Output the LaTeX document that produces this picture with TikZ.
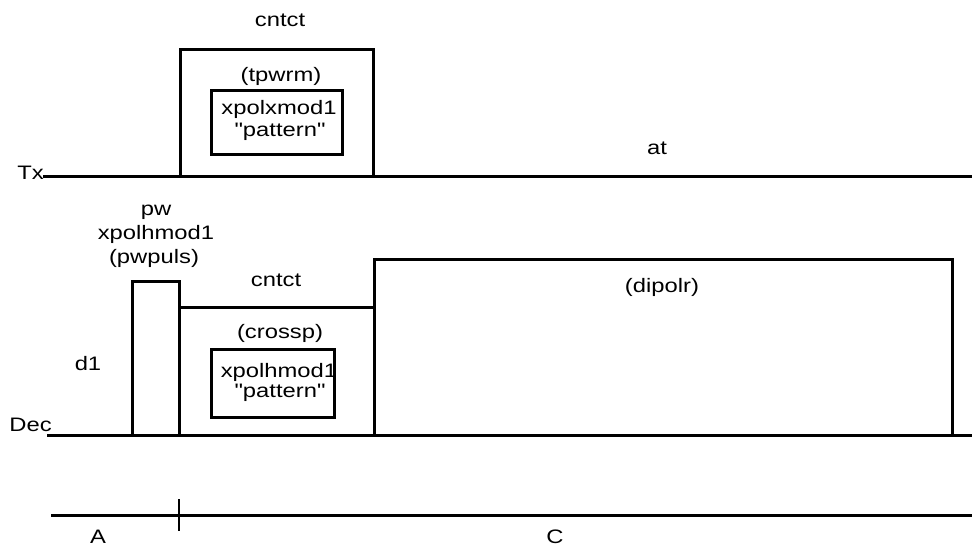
\documentclass[tikz,border=0pt]{standalone}
\usepackage{fontspec}
\setmainfont{Liberation Sans}[FakeStretch=1.22, Ligatures=TeXOff]
\begin{document}
\begin{tikzpicture}[x=1pt,y=-1pt,
  wire/.style={line width=3pt, line join=miter, line cap=butt},
  lbl/.style={font=\fontsize{19.5}{22}\selectfont, inner sep=0pt, anchor=base}]
\useasboundingbox (0,0) rectangle (972,546);
% coordinates
\coordinate (txs) at (43,176);
\coordinate (txe) at (972,176);
\coordinate (decs) at (47,435);
\coordinate (dece) at (972,435);
\coordinate (bs) at (51,515);
\coordinate (be) at (972,515);
\coordinate (tt) at (179,499);
\coordinate (tb) at (179,531);
% Tx channel
\draw[wire] (txs) -- (txe);
\draw[wire] (180,176) -- (180,49) -- (373,49) -- (373,176);
\draw[wire] (211,90) rectangle (342,154);
% Dec channel
\draw[wire] (decs) -- (dece);
\draw[wire] (132,435) -- (132,281) -- (179,281) -- (179,307) -- (374,307)
  -- (374,259) -- (952,259) -- (952,435);
\draw[wire] (179,307) -- (179,435);
\draw[wire] (374,307) -- (374,435);
\draw[wire] (211,349) rectangle (334,417);
% timeline
\draw[wire] (bs) -- (be);
\draw[line width=2.6pt] (tt) -- (tb);
% labels Tx
\node[lbl, anchor=base east] (tx) at (44,179) {Tx};
\node[lbl] (c1) at (280,27) {cntct};
\node[lbl] (tp) at (281,81) {(tpwrm)};
\node[lbl] (xm1) at (279,114) {xpolxmod1};
\node[lbl] (pt1) at (280,136) {"pattern"};
\node[lbl] (at) at (657,154) {at};
% labels Dec
\node[lbl, anchor=base east] (dec) at (52,431) {Dec};
\node[lbl] (pw) at (156,215) {pw};
\node[lbl] (xh1) at (156,239) {xpolhmod1};
\node[lbl] (pwp) at (154,263) {(pwpuls)};
\node[lbl] (c2) at (276,286) {cntct};
\node[lbl] (cr) at (280,338) {(crossp)};
\node[lbl] (d1) at (88,370) {d1};
\node[lbl] (xh2) at (279,377) {xpolhmod1};
\node[lbl] (pt2) at (280,397) {"pattern"};
\node[lbl] (dp) at (662,292) {(dipolr)};
% timeline labels
\node[lbl] (A) at (98,543) {A};
\node[lbl] (C) at (555,543) {C};
\end{tikzpicture}
\end{document}
